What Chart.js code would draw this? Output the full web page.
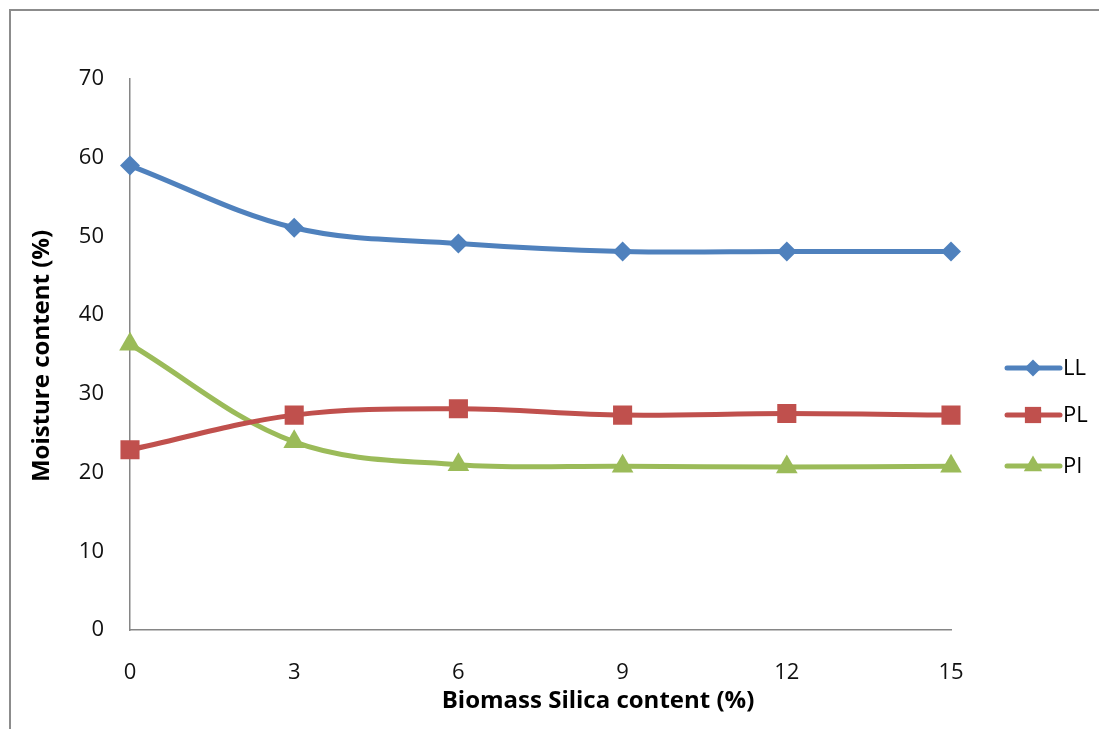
<!DOCTYPE html>
<html>
<head>
<meta charset="utf-8">
<script src="https://cdn.jsdelivr.net/npm/chart.js@4.4.0/dist/chart.umd.min.js"></script>
<style>
  body { margin: 0; background: #fff; }
  #frame { position: absolute; left: 9px; top: 9px; right: 0; bottom: 0; border-top: 2px solid #8c8c8c; border-left: 2px solid #8c8c8c; }
  #wrap { position: absolute; left: 0; top: 0; width: 1099px; height: 729px; }
</style>
</head>
<body>
<div id="frame"></div>
<div id="wrap"><canvas id="moistureChart" width="1099" height="729"></canvas></div>
<script>
// silica content categories (%)
let silicaLabels = ["0", "3", "6", "9", "12", "15"]

// moisture content values (%)
let llValues = [59, 51.1, 49.1, 48.1, 48.1, 48.1]
let plValues = [22.9, 27.3, 28.1, 27.3, 27.5, 27.3]
let piValues = [36.3, 23.9, 21, 20.8, 20.7, 20.8]

let seriesNames = ["LL", "PL", "PI"]
let yTicks = [0, 10, 20, 30, 40, 50, 60, 70]

let blue = "#4f81bd"
let red = "#c0504d"
let green = "#9bbb59"
let tickFont = "'Open Sans', sans-serif"

// legend with a short line + marker, like the spreadsheet one
let sideLegend = {
    id: "sideLegend",
    afterDraw(chart) {
        let ctx = chart.ctx
        let rows = [368, 415, 466]
        chart.data.datasets.forEach(function (ds, i) {
            let y = rows[i]
            ctx.save()
            ctx.strokeStyle = ds.borderColor
            ctx.lineWidth = 5
            ctx.lineCap = "round"
            ctx.beginPath()
            ctx.moveTo(1007, y)
            ctx.lineTo(1060, y)
            ctx.stroke()
            ctx.fillStyle = ds.backgroundColor
            Chart.helpers.drawPoint(ctx, { pointStyle: ds.pointStyle, radius: ds.pointRadius * 0.85, rotation: 0 }, 1033, y)
            ctx.fillStyle = "#000"
            ctx.font = "22px " + tickFont
            ctx.textBaseline = "middle"
            ctx.fillText(ds.label, 1063, y + 1)
            ctx.restore()
        })
    }
}

// axis titles sit where the original had them
let axisTitles = {
    id: "axisTitles",
    afterDraw(chart) {
        let ctx = chart.ctx
        ctx.save()
        ctx.fillStyle = "#000"
        ctx.font = "bold 24px " + tickFont
        ctx.textAlign = "center"
        ctx.textBaseline = "middle"
        ctx.fillText("Biomass Silica content (%)", 598, 701)
        ctx.translate(42, 356)
        ctx.rotate(-Math.PI / 2)
        ctx.fillText("Moisture content (%)", 0, 0)
        ctx.restore()
    }
}

function makeSet(name, values, color, style, radius) {
    return {
        label: name,
        data: values,
        borderColor: color,
        backgroundColor: color,
        borderWidth: 5,
        pointStyle: style,
        pointRadius: radius,
        pointBorderWidth: 0,
        tension: 0.35,
        fill: false
    }
}

let ctx = document.getElementById("moistureChart").getContext("2d")
let chart = new Chart(ctx, {
    type: "line",
    data: {
        labels: silicaLabels,
        datasets: [
            makeSet(seriesNames[0], llValues, blue, "rectRot", 10),
            makeSet(seriesNames[1], plValues, red, "rect", 13.5),
            makeSet(seriesNames[2], piValues, green, "triangle", 12.5)
        ]
    },
    options: {
        responsive: false,
        animation: false,
        layout: { padding: { left: 0, top: 79, right: 148, bottom: 0 } },
        plugins: { legend: { display: false }, tooltip: { enabled: false } },
        scales: {
            x: {
                offset: false,
                grid: { display: false, drawTicks: false },
                border: { color: "#868686", width: 1.5 },
                ticks: { color: "#111", font: { family: tickFont, size: 22 }, padding: 30, maxRotation: 0 },
                afterFit(scale) { scale.height = 99 }
            },
            y: {
                min: 0,
                max: 70,
                afterBuildTicks(scale) { scale.ticks = yTicks.map(v => ({ value: v })) },
                grid: { display: false, drawTicks: false },
                border: { color: "#868686", width: 1.5 },
                ticks: { color: "#111", font: { family: tickFont, size: 22 }, padding: 26 },
                afterFit(scale) { scale.width = 130 }
            }
        }
    },
    plugins: [sideLegend, axisTitles]
})
</script>
</body>
</html>
